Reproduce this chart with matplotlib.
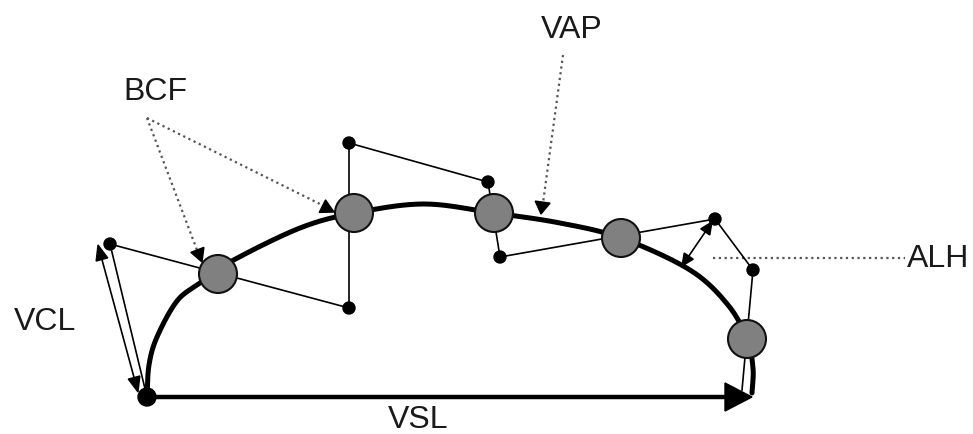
import numpy as np
import matplotlib
matplotlib.use("Agg")
from matplotlib import pyplot as plt
from matplotlib.patches import Circle, Polygon

# all positions in image pixels (x right, y down)
start = (147, 397)
vsl_end = (752, 397)

# smoothed path (VAP) points
vap_x = [147, 149, 157, 177, 200, 230, 300, 355, 424, 494, 560, 621, 690, 728, 747, 753, 752]
vap_y = [397, 365, 337, 301, 283, 262, 228, 213, 204, 213, 223, 238, 270, 305, 339, 368, 393]

# curvilinear track (VCL) points
vcl_x = [147, 110, 349, 349, 488, 500, 715, 753, 742]
vcl_y = [397, 244, 308, 143, 182, 257, 219, 270, 390]

# head positions on the smoothed path
head_x = [218, 354, 494, 621, 747]
head_y = [274, 213, 213, 238, 339]

labels = ["VCL", "BCF", "VAP", "ALH", "VSL"]
label_x = [45, 155, 572, 938, 418]
label_y = [322, 92, 30, 259, 420]


def catmull_rom(xs, ys, n=30):
    p = np.column_stack([xs, ys]).astype(float)
    p = np.vstack([2 * p[0] - p[1], p, 2 * p[-1] - p[-2]])
    out = []
    t = np.linspace(0, 1, n, endpoint=False)[:, None]
    for i in range(1, len(p) - 2):
        p0, p1, p2, p3 = p[i - 1], p[i], p[i + 1], p[i + 2]
        seg = 0.5 * ((2 * p1) + (-p0 + p2) * t + (2 * p0 - 5 * p1 + 4 * p2 - p3) * t ** 2
                     + (-p0 + 3 * p1 - 3 * p2 + p3) * t ** 3)
        out.append(seg)
    out.append(p[-2][None, :])
    return np.vstack(out)


def head(ax, tail, tip, length, width, color="black", z=6):
    # filled triangle arrow head with its point at tip
    d = np.array(tip, float) - np.array(tail, float)
    d /= np.hypot(*d)
    n = np.array([-d[1], d[0]])
    base = np.array(tip, float) - d * length
    tri = [tip, base + n * width / 2, base - n * width / 2]
    ax.add_patch(Polygon(tri, closed=True, color=color, zorder=z))


def main():
    fig = plt.figure(figsize=(9.73, 4.34), dpi=100)
    ax = fig.add_axes([0, 0, 1, 1])
    ax.set_xlim(0, 973)
    ax.set_ylim(434, 0)
    ax.axis("off")

    # VSL straight line
    ax.plot([start[0], vsl_end[0] - 25], [start[1], start[1]], color="black", lw=3.2,
            solid_capstyle="butt", zorder=3)
    head(ax, start, vsl_end, 27, 28, z=4)

    # VAP smoothed path
    curve = catmull_rom(vap_x, vap_y)
    ax.plot(curve[:, 0], curve[:, 1], color="black", lw=3.6, zorder=3,
            solid_capstyle="round")

    # VCL track
    ax.plot(vcl_x, vcl_y, color="black", lw=1.2, zorder=2)
    for x, y in zip(vcl_x[1:-1], vcl_y[1:-1]):
        ax.add_patch(Circle((x, y), 6, color="black", zorder=5))
    ax.add_patch(Circle(start, 9, color="black", zorder=5))

    for x, y in zip(head_x, head_y):
        ax.add_patch(Circle((x, y), 19, facecolor="#808080", edgecolor="#111111",
                            lw=1.5, zorder=5))

    # VCL double arrow
    t1, t2 = (98, 245), (138, 392)
    ax.plot([101, 135], [256, 381], color="black", lw=1.2, zorder=4)
    head(ax, t2, t1, 15, 12)
    head(ax, t1, t2, 15, 12)

    # ALH double arrow
    a1, a2 = (712, 222), (682, 266)
    ax.plot([a1[0], a2[0]], [a1[1], a2[1]], color="black", lw=1.2, zorder=4)
    head(ax, a2, a1, 12, 11)
    head(ax, a1, a2, 12, 11)

    dot = dict(color="#555555", lw=1.6, ls=(0, (1, 1.6)), zorder=1)
    # BCF pointers
    ax.plot([147, 197], [118, 250], **dot)
    head(ax, (147, 118), (202, 262), 13, 14)
    ax.plot([147, 322], [118, 205], **dot)
    head(ax, (147, 118), (334, 212), 13, 14)
    # VAP pointer
    ax.plot([563, 543], [55, 203], **dot)
    head(ax, (563, 55), (541, 214), 12, 15)
    # ALH pointer
    ax.plot([713, 905], [258, 258], **dot)

    for s, x, y in zip(labels, label_x, label_y):
        ax.text(x, y, s, ha="center", va="center", fontsize=23,
                family="Liberation Sans", color="#1a1a1a")

    fig.savefig("out.png", dpi=100, facecolor="white")


if __name__ == "__main__":
    main()
